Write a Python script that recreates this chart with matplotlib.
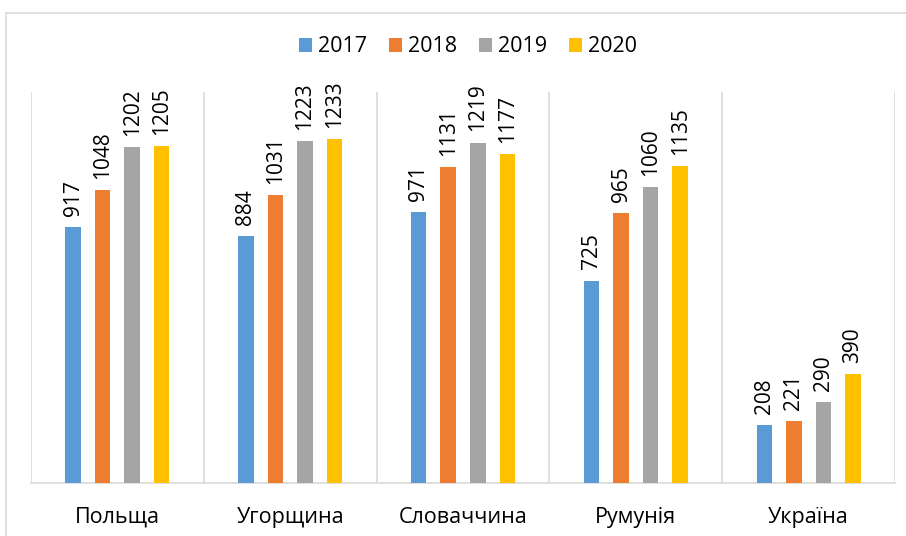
import numpy as np
import matplotlib.pyplot as plt
from matplotlib.patches import Rectangle

plt.rcParams['font.family'] = ['Open Sans', 'DejaVu Sans']

countries = ["Польща", "Угорщина", "Словаччина", "Румунія", "Україна"]
years = ["2017", "2018", "2019", "2020"]
v2017 = [917, 884, 971, 725, 208]
v2018 = [1048, 1031, 1131, 965, 221]
v2019 = [1202, 1223, 1219, 1060, 290]
v2020 = [1205, 1233, 1177, 1135, 390]
colors = ["#5B9BD5", "#ED7D31", "#A5A5A5", "#FFC000"]

fig = plt.figure(figsize=(9.06, 5.36), dpi=100)
ax = fig.add_axes([31 / 906, 53 / 536, 864 / 906, 391 / 536])

# chart border (partly cut off, like the source image)
fig.patches.append(Rectangle((6 / 906, -0.05), 1.0, 1 - 13 / 536 + 0.05,
                             transform=fig.transFigure, fill=False,
                             edgecolor="#d9d9d9", linewidth=1.2))

x = np.arange(len(countries))
step = 0.171
width = 0.09
series = [v2017, v2018, v2019, v2020]
for i, (vals, c, yr) in enumerate(zip(series, colors, years)):
    pos = x + (i - 1.5) * step
    ax.bar(pos, vals, width=width, color=c, label=yr, zorder=3)
    for px, v in zip(pos, vals):
        ax.annotate(str(v), (px, v), xytext=(0, 8), textcoords="offset points",
                    rotation=90, ha="center", va="bottom", fontsize=15)

ax.set_xlim(-0.5, len(countries) - 0.5)
ax.set_ylim(0, 1400)
ax.set_yticks([])
ax.set_xticks(x)
ax.set_xticklabels(countries, fontsize=15.5)
ax.tick_params(axis="x", length=0, pad=17)

# category separators
for sx in np.arange(-0.5, len(countries), 1.0):
    ax.axvline(sx, color="#d9d9d9", linewidth=1.2, zorder=1)

for s in ["top", "left", "right"]:
    ax.spines[s].set_visible(False)
ax.spines["bottom"].set_color("#d9d9d9")
ax.spines["bottom"].set_linewidth(1.2)

leg = fig.legend(loc="center", bbox_to_anchor=(468 / 906, 1 - 47 / 536), ncol=4,
                 frameon=False, fontsize=15.5, handlelength=0.6, handleheight=0.6,
                 handletextpad=0.3, columnspacing=1.0)

fig.savefig("out.png", dpi=100)
